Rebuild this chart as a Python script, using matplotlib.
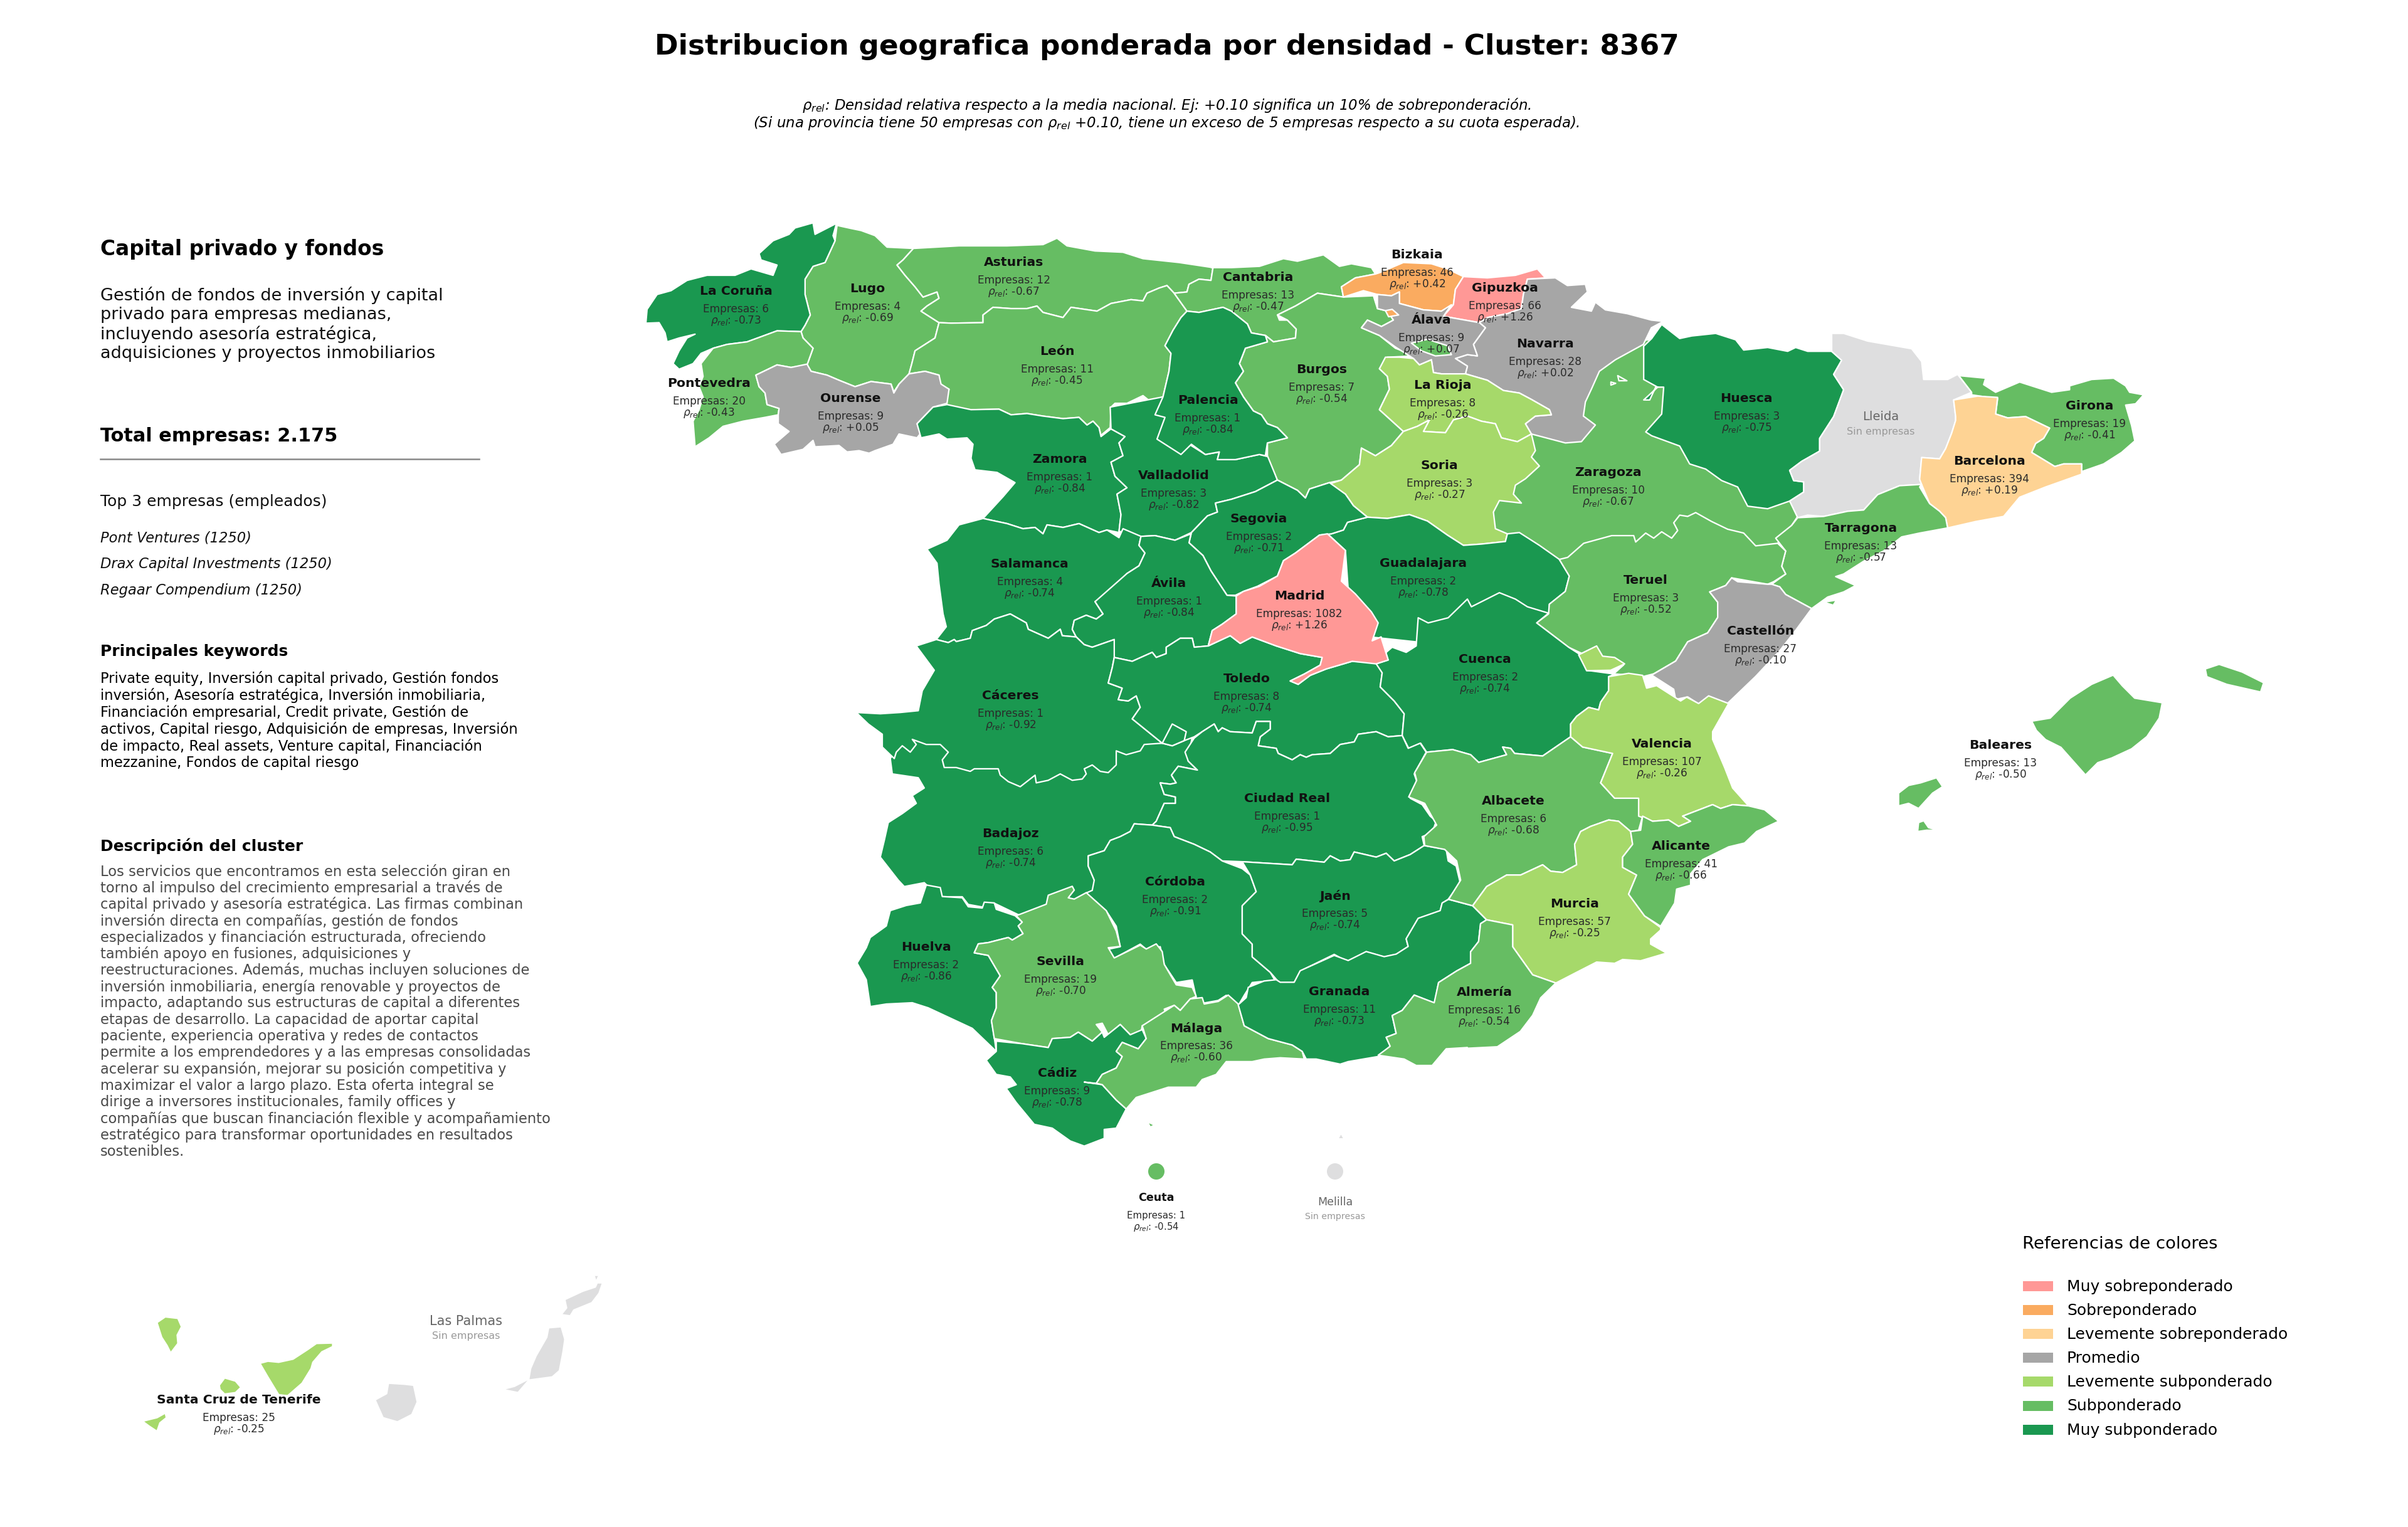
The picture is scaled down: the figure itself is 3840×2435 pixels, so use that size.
#!/usr/bin/env python3
"""Mapa de provincias ponderado por densidad, cluster 8367."""

import matplotlib
matplotlib.use('Agg')
import matplotlib.pyplot as plt
from matplotlib.patches import Polygon, Rectangle, Circle

# values
PROVINCES = ['La Coruña', 'Lugo', 'Asturias', 'Cantabria', 'Bizkaia', 'Gipuzkoa', 'Álava', 'Navarra',
             'Pontevedra', 'Ourense', 'León', 'Palencia', 'Burgos', 'La Rioja', 'Zamora', 'Valladolid',
             'Soria', 'Zaragoza', 'Huesca', 'Barcelona', 'Girona', 'Tarragona', 'Segovia', 'Salamanca',
             'Ávila', 'Guadalajara', 'Madrid', 'Teruel', 'Castellón', 'Cáceres', 'Toledo', 'Cuenca',
             'Valencia', 'Baleares', 'Badajoz', 'Ciudad Real', 'Albacete', 'Alicante', 'Córdoba', 'Jaén',
             'Murcia', 'Huelva', 'Sevilla', 'Granada', 'Almería', 'Málaga', 'Cádiz', 'Ceuta',
             'Santa Cruz de Tenerife']
EMPRESAS = [6, 4, 12, 13, 46, 66, 9, 28,
            20, 9, 11, 1, 7, 8, 1, 3,
            3, 10, 3, 394, 19, 13, 2, 4,
            1, 2, 1082, 3, 27, 1, 8, 2,
            107, 13, 6, 1, 6, 41, 2, 5,
            57, 2, 19, 11, 16, 36, 9, 1,
            25]
RHO = [-0.73, -0.69, -0.67, -0.47, 0.42, 1.26, 0.07, 0.02,
       -0.43, 0.05, -0.45, -0.84, -0.54, -0.26, -0.84, -0.82,
       -0.27, -0.67, -0.75, 0.19, -0.41, -0.57, -0.71, -0.74,
       -0.84, -0.78, 1.26, -0.52, -0.10, -0.92, -0.74, -0.74,
       -0.26, -0.50, -0.74, -0.95, -0.68, -0.66, -0.91, -0.74,
       -0.25, -0.86, -0.70, -0.73, -0.54, -0.60, -0.78, -0.54,
       -0.25]
EMPTY_PROVINCES = ['Lleida', 'Las Palmas', 'Melilla']

LEGEND_LABELS = ['Muy sobreponderado', 'Sobreponderado', 'Levemente sobreponderado', 'Promedio',
                 'Levemente subponderado', 'Subponderado', 'Muy subponderado']
LEGEND_COLORS = ['#FF9896', '#FAAB60', '#FED394', '#A6A6A6', '#A6D96A', '#66BD63', '#1A9850']
EMPTY_COLOR = '#DEDEDF'
BIN_EDGES = [-0.70, -0.30, -0.10, 0.10, 0.30, 0.70]

TOP_COMPANIES = ['Pont Ventures (1250)', 'Drax Capital Investments (1250)', 'Regaar Compendium (1250)']
SUMMARY = ['Gestión de fondos de inversión y capital', 'privado para empresas medianas,',
           'incluyendo asesoría estratégica,', 'adquisiciones y proyectos inmobiliarios']
KEYWORDS = ['Private equity, Inversión capital privado, Gestión fondos',
            'inversión, Asesoría estratégica, Inversión inmobiliaria,',
            'Financiación empresarial, Credit private, Gestión de',
            'activos, Capital riesgo, Adquisición de empresas, Inversión',
            'de impacto, Real assets, Venture capital, Financiación',
            'mezzanine, Fondos de capital riesgo']
DESCRIPTION = ['Los servicios que encontramos en esta selección giran en',
               'torno al impulso del crecimiento empresarial a través de',
               'capital privado y asesoría estratégica. Las firmas combinan',
               'inversión directa en compañías, gestión de fondos',
               'especializados y financiación estructurada, ofreciendo',
               'también apoyo en fusiones, adquisiciones y',
               'reestructuraciones. Además, muchas incluyen soluciones de',
               'inversión inmobiliaria, energía renovable y proyectos de',
               'impacto, adaptando sus estructuras de capital a diferentes',
               'etapas de desarrollo. La capacidad de aportar capital',
               'paciente, experiencia operativa y redes de contactos',
               'permite a los emprendedores y a las empresas consolidadas',
               'acelerar su expansión, mejorar su posición competitiva y',
               'maximizar el valor a largo plazo. Esta oferta integral se',
               'dirige a inversores institucionales, family offices y',
               'compañías que buscan financiación flexible y acompañamiento',
               'estratégico para transformar oportunidades en resultados',
               'sostenibles.']


# outlines were traced on crops of the picture, each crop has its own origin and scale
def z(x0, y0, sx, sy, pts):
    return [(x0 + x * sx, y0 + y * sy) for x, y in pts]

SX, SY = 1000 / 1568, 640 / 1568

def z1(pts): return z(1000, 340, SX, SY, pts)
def z2(pts): return z(1900, 340, SX, SY, pts)
def z3(pts): return z(2500, 500, SX, SY, pts)
def z4(pts): return z(1340, 980, SX, SY, pts)
def z5(pts): return z(2240, 980, SX, SY, pts)
def z6(pts): return z(1340, 1400, SX, SY, pts)
def z7(pts): return z(100, 2020, 900 / 1568, 1 / 3, pts)
def zm(pts): return z(0, 0, 3840 / 1568, 3840 / 1568, pts)

# painted in this order, later shapes lie over the loose edges of earlier ones
OUTLINES = [
    ('Zaragoza', z2([(1125, 500), (1000, 600), (950, 700), (840, 850), (800, 1000), (760, 1100), (740, 1190),
                     (770, 1260), (900, 1400)])
     + z3([(100, 1000), (500, 950), (560, 830), (590, 760), (500, 700), (300, 400), (260, 200), (230, 100)])),
    ('Lugo', z1([(525, 50), (560, 62), (585, 70), (620, 90), (650, 135), (716, 140), (690, 185), (675, 205),
                 (695, 245), (720, 290), (740, 330), (775, 310), (780, 335), (750, 365), (735, 385), (755, 405),
                 (780, 430), (775, 460), (770, 490), (745, 515), (720, 540), (712, 590), (705, 630), (680, 670),
                 (667, 700), (660, 670), (610, 660), (570, 680), (530, 655), (500, 635), (460, 620), (450, 595),
                 (465, 530), (440, 490), (435, 465), (445, 440), (458, 400), (445, 320), (445, 260), (465, 210),
                 (495, 195), (520, 110)])),
    ('La Coruña', z1([(525, 35), (515, 90), (520, 110), (495, 195), (465, 210), (445, 260), (445, 320), (458, 400),
                      (445, 440), (435, 465), (375, 462), (335, 485), (300, 505), (250, 515), (215, 530), (185, 550),
                      (165, 590), (130, 612), (115, 590), (130, 540), (150, 490), (170, 475), (130, 490), (100, 505),
                      (95, 470), (80, 430), (47, 432), (50, 378), (75, 320), (110, 305), (150, 265), (200, 245),
                      (270, 245), (310, 220), (365, 245), (375, 205), (335, 185), (330, 160), (365, 110), (405, 85),
                      (420, 60), (465, 40), (470, 85), (520, 45)])),
    ('Asturias', z1([(716, 140), (830, 130), (950, 130), (1040, 125), (1075, 100), (1100, 130), (1170, 150),
                     (1240, 155), (1290, 180), (1380, 195), (1465, 215), (1460, 265), (1430, 260), (1405, 280),
                     (1400, 310), (1368, 315), (1350, 285), (1330, 295), (1300, 315), (1290, 345), (1260, 340),
                     (1210, 355), (1175, 385), (1110, 370), (1090, 410), (1040, 390), (1025, 365), (1000, 375),
                     (960, 375), (915, 370), (890, 400), (890, 430), (810, 432), (780, 430), (755, 405), (735, 385),
                     (750, 365), (780, 335), (775, 310), (740, 330), (720, 290), (695, 245), (675, 205), (690, 185)])),
    ('León', z1([(780, 430), (810, 432), (890, 430), (890, 400), (915, 370), (960, 375), (1000, 375), (1025, 365),
                 (1040, 390), (1090, 410), (1110, 370), (1175, 385), (1210, 355), (1260, 340), (1290, 345),
                 (1300, 315), (1330, 295), (1350, 285), (1368, 315), (1400, 385), (1385, 410), (1365, 460),
                 (1345, 520), (1360, 550), (1355, 620), (1340, 720), (1310, 740), (1290, 715), (1250, 745),
                 (1220, 745), (1210, 760), (1208, 840), (1185, 870), (1180, 840), (1165, 815), (1150, 830),
                 (1130, 800), (1090, 805), (1040, 795), (1000, 785), (960, 790), (930, 768), (860, 770), (800, 760),
                 (795, 745), (805, 690), (780, 670), (780, 635), (745, 620), (705, 630), (712, 590), (720, 540),
                 (745, 515), (770, 490), (775, 460)])),
    ('Pontevedra', z1([(435, 465), (375, 462), (335, 485), (300, 505), (250, 515), (215, 530), (185, 590), (190, 640),
                       (180, 680), (190, 720), (180, 770), (165, 815), (170, 915), (205, 880), (240, 835), (290, 815),
                       (345, 800), (378, 790), (380, 765), (350, 750), (345, 705), (330, 680), (322, 635), (375, 595),
                       (410, 605), (450, 595), (465, 530), (440, 490)])),
    ('Ourense', z1([(322, 635), (375, 595), (410, 605), (450, 592), (460, 620), (500, 635), (530, 655), (570, 680),
                    (610, 660), (660, 670), (667, 705), (680, 670), (705, 630), (745, 620), (780, 635), (785, 670),
                    (805, 690), (800, 745), (765, 760), (725, 825), (735, 860), (725, 880), (680, 865), (665, 905),
                    (620, 930), (605, 940), (580, 930), (550, 935), (530, 910), (470, 915), (465, 890), (440, 925),
                    (385, 945), (368, 905), (405, 855), (378, 825), (378, 790), (380, 765), (350, 750), (345, 705),
                    (330, 680)])),
    ('Zamora', z1([(800, 750), (860, 770), (930, 768), (960, 790), (1000, 785), (1040, 795), (1090, 805), (1130, 800),
                   (1150, 830), (1165, 815), (1180, 840), (1185, 875), (1210, 845), (1245, 875), (1230, 900),
                   (1240, 950), (1210, 975), (1220, 1030), (1250, 1075), (1225, 1100), (1235, 1180), (1230, 1250),
                   (1200, 1240), (1180, 1250), (1130, 1215), (1090, 1230), (1050, 1220), (1040, 1255), (1020, 1230),
                   (990, 1235), (950, 1215), (890, 1195), (940, 1110), (970, 1055), (925, 1015), (870, 1005),
                   (860, 960), (865, 905), (850, 880), (800, 885), (780, 865), (735, 880), (725, 825), (765, 760)])),
    ('Valladolid', z1([(1208, 760), (1340, 720), (1400, 900), (1446, 945), (1481, 935), (1476, 965), (1521, 965),
                       (1581, 945), (1606, 955), (1626, 1045), (1571, 1090), (1511, 1120), (1471, 1135), (1476, 1170),
                       (1451, 1185), (1411, 1250), (1370, 1280), (1320, 1262), (1285, 1265), (1230, 1245),
                       (1235, 1180), (1225, 1100), (1250, 1075), (1220, 1030), (1210, 975), (1240, 950), (1230, 900),
                       (1245, 875), (1210, 845)])),
    ('Cantabria', z1([(1465, 215), (1460, 265), (1430, 260), (1405, 280), (1400, 310), (1368, 315), (1400, 385),
                      (1430, 390), (1490, 370), (1511, 385), (1551, 435), (1561, 470)])
     + z2([(185, 480), (205, 505), (260, 490), (262, 455), (240, 420), (220, 420), (215, 400), (260, 365), (315, 315),
           (380, 330), (375, 290), (410, 255), (460, 240), (450, 215), (400, 200), (370, 210), (330, 165), (265, 190),
           (230, 180), (170, 210), (100, 215), (50, 215)])),
    ('Burgos', z2([(215, 400), (260, 365), (315, 315), (380, 330), (455, 325), (465, 375), (490, 385), (505, 420),
                   (475, 445), (440, 420), (425, 450), (470, 480), (510, 530), (560, 560), (490, 565), (470, 610),
                   (490, 640), (495, 690), (470, 770), (530, 855), (500, 910), (460, 950), (425, 920), (420, 985),
                   (375, 1045), (345, 1055), (295, 1080), (285, 1115), (265, 1085), (215, 1045), (190, 950), (190, 900),
                   (240, 880), (215, 840), (190, 825), (175, 790), (155, 775), (130, 720), (110, 665), (130, 620),
                   (120, 590), (135, 530), (190, 505), (185, 480), (205, 505), (260, 490), (262, 455), (240, 420)])),
    ('Palencia', z1([(1511, 385), (1551, 435), (1561, 470), (1596, 480), (1601, 505), (1546, 530), (1531, 590),
                     (1541, 620), (1521, 665), (1541, 720), (1566, 775), (1586, 790), (1601, 825), (1626, 840),
                     (1651, 880), (1601, 900), (1596, 950), (1581, 945), (1521, 965), (1476, 965), (1481, 935),
                     (1446, 945), (1411, 905), (1385, 945), (1325, 885), (1345, 800), (1320, 790), (1340, 720),
                     (1355, 620), (1360, 550), (1345, 520), (1365, 460), (1385, 410), (1400, 385), (1430, 390),
                     (1490, 370)])),
    ('Bizkaia', z2([(375, 290), (410, 255), (460, 240), (470, 235), (530, 195), (600, 200), (640, 220), (680, 250),
                    (660, 300), (655, 360), (625, 385), (580, 380), (520, 355), (520, 310), (500, 325), (465, 320),
                    (430, 305), (380, 330)])),
    ('Gipuzkoa', z2([(680, 250), (740, 255), (810, 245), (865, 220), (885, 255), (840, 260), (830, 320), (825, 375),
                     (790, 395), (740, 410), (720, 430), (630, 405), (655, 360), (660, 300)])),
    ('Navarra', z2([(830, 320), (840, 260), (910, 255), (940, 285), (985, 280), (990, 310), (950, 370), (1000, 385),
                    (1010, 350), (1035, 380), (1090, 395), (1150, 420), (1180, 425), (1150, 450), (1130, 515),
                    (1060, 575), (1020, 620), (1000, 690), (985, 740), (980, 795), (1010, 830), (975, 895), (935, 900),
                    (850, 865), (835, 825), (860, 795), (900, 790), (895, 770), (850, 730), (820, 705), (780, 695),
                    (740, 655), (685, 630), (690, 600), (660, 570), (690, 555), (715, 560), (705, 515), (735, 450),
                    (720, 430), (740, 410), (790, 395), (825, 375)])),
    ('Álava', z2([(465, 320), (500, 325), (520, 310), (520, 355), (580, 380), (625, 385), (650, 360), (630, 405),
                  (720, 430), (735, 450), (705, 515), (715, 560), (690, 555), (660, 570), (690, 600), (685, 630),
                  (625, 630), (605, 625), (600, 575), (570, 595), (555, 570), (510, 525), (470, 480), (425, 450),
                  (440, 420), (475, 445), (505, 420), (490, 385), (465, 375)])),
    ('Burgos', z2([(550, 510), (590, 495), (640, 520), (650, 555), (610, 560), (575, 540)])),
    ('Bizkaia', z2([(485, 383), (502, 378), (518, 400), (493, 407)])),
    ('La Rioja', z2([(485, 565), (520, 565), (555, 570), (570, 595), (600, 575), (605, 625), (625, 630), (685, 630),
                     (740, 655), (780, 695), (820, 705), (850, 730), (895, 770), (900, 790), (860, 795), (835, 825),
                     (850, 865), (815, 895), (775, 880), (760, 825), (725, 815), (690, 795), (655, 810), (635, 860),
                     (580, 855), (595, 810), (565, 835), (530, 855), (470, 770), (495, 690), (490, 640), (470, 610)])),
    ('Soria', z2([(530, 855), (565, 835), (595, 810), (580, 855), (635, 860), (655, 810), (690, 795), (725, 815),
                  (760, 825), (775, 880), (815, 895), (850, 865), (860, 930), (850, 955), (870, 990), (835, 1040),
                  (810, 1065), (805, 1100), (825, 1135), (770, 1125), (755, 1170), (760, 1235), (790, 1255),
                  (785, 1285), (725, 1295), (680, 1300), (640, 1260), (590, 1205), (545, 1180), (490, 1195),
                  (440, 1190), (405, 1145), (385, 1100), (345, 1060), (375, 1045), (420, 985), (425, 920), (460, 950),
                  (500, 910)])),
    ('Huesca', z3([(235, 45), (280, 100), (310, 90), (370, 80), (420, 105), (440, 145), (500, 135), (550, 150),
                   (570, 135), (600, 150), (660, 150), (685, 185), (665, 240), (690, 300), (665, 405), (630, 490),
                   (630, 540), (585, 580), (555, 615), (565, 655), (590, 660), (590, 700), (555, 735), (500, 765),
                   (450, 755), (425, 680), (385, 655), (345, 610), (305, 590), (280, 520), (210, 480), (195, 465),
                   (235, 395), (240, 290), (220, 290), (205, 340), (190, 340), (225, 290), (190, 260), (190, 130),
                   (210, 100)])),
    ('Zaragoza', z3([(125, 245), (148, 265), (128, 265)])),
    ('Zaragoza', z3([(108, 270), (120, 275), (108, 282)])),
    ('Lleida', z3([(660, 80), (690, 80), (750, 110), (860, 140), (885, 190), (890, 260), (950, 260), (975, 240),
                   (1010, 310), (965, 340), (970, 405), (970, 420), (960, 470), (945, 530), (930, 570), (885, 565),
                   (880, 650), (885, 670), (830, 675), (775, 710), (740, 770), (700, 775), (640, 795), (600, 790),
                   (575, 800), (555, 735), (590, 700), (590, 660), (565, 655), (555, 615), (585, 580), (630, 540),
                   (630, 490), (665, 405), (690, 300), (665, 240), (685, 185), (660, 150), (660, 115)])),
    ('Girona', z3([(978, 245), (1045, 255), (1040, 280), (1070, 310), (1130, 270), (1180, 295), (1210, 310),
                   (1255, 300), (1255, 285), (1310, 260), (1365, 255), (1395, 285), (1405, 310), (1440, 320),
                   (1420, 355), (1395, 360), (1410, 440), (1418, 500), (1385, 545), (1340, 590), (1285, 620),
                   (1285, 590), (1240, 590), (1218, 600), (1160, 545), (1170, 510), (1190, 490), (1205, 450),
                   (1145, 405), (1100, 410), (1070, 395), (1075, 335), (1010, 320), (1010, 310)])),
    ('Barcelona', z3([(965, 340), (1025, 325), (1075, 330), (1070, 395), (1100, 410), (1145, 405), (1205, 450),
                      (1190, 490), (1170, 510), (1160, 545), (1218, 600), (1240, 590), (1285, 590), (1285, 630),
                      (1195, 680), (1130, 720), (1090, 795), (1020, 815), (950, 840), (945, 800), (930, 775),
                      (905, 745), (885, 670), (880, 650), (885, 565), (930, 570), (945, 530), (960, 470), (970, 420),
                      (970, 405)])),
    ('Tarragona', z3([(575, 800), (640, 795), (700, 775), (740, 770), (775, 710), (830, 675), (885, 670), (880, 680),
                      (905, 745), (930, 775), (945, 800), (950, 840), (880, 860), (835, 875), (790, 930), (740, 970),
                      (690, 1020), (670, 1030), (720, 1065), (690, 1090), (650, 1110), (610, 1155), (545, 1100),
                      (530, 1070), (510, 1060), (545, 1020), (535, 990), (545, 930), (520, 880), (560, 830)])),
    ('Tarragona', z3([(640, 1130), (672, 1122), (664, 1142)])),
    ('Guadalajara', z2([(340, 1255), (350, 1255), (380, 1240), (390, 1210), (440, 1190), (490, 1195), (545, 1180),
                        (590, 1205), (640, 1260), (680, 1300), (725, 1295), (785, 1285), (790, 1255), (820, 1250),
                        (870, 1300), (920, 1355), (945, 1420), (935, 1480), (895, 1530), (895, 1565), (700, 1700),
                        (400, 1650), (385, 1320)])),
    ('Segovia', z2([(215, 1045), (265, 1085), (285, 1115), (295, 1080), (345, 1055), (385, 1100), (405, 1145),
                    (440, 1190), (390, 1210), (380, 1240), (350, 1255), (320, 1260), (260, 1330), (230, 1360),
                    (215, 1420), (165, 1460), (130, 1480), (110, 1495), (89, 1495), (49, 1400), (29, 1340), (-6, 1290),
                    (0, 1250), (40, 1185), (65, 1170), (60, 1135), (100, 1120), (160, 1090)])),
    ('Salamanca', z1([(890, 1195), (950, 1215), (990, 1235), (1020, 1230), (1040, 1255), (1050, 1220), (1090, 1230),
                      (1130, 1215), (1180, 1250), (1200, 1240), (1230, 1270), (1240, 1235), (1285, 1265), (1280, 1300),
                      (1295, 1330), (1280, 1380), (1250, 1410), (1210, 1480), (1170, 1520)])
     + z4([(657, 0), (640, 20), (615, 5), (585, 25), (580, 60), (590, 90), (555, 85), (550, 60), (520, 95), (470, 60),
           (465, 35), (425, 0), (385, 20), (365, 45), (330, 65), (325, 95), (290, 108), (285, 100), (270, 112),
           (240, 100), (265, 50), (257, 0)])
     + z1([(780, 1450), (775, 1370), (750, 1315), (800, 1280), (830, 1220)])),
    ('Ávila', z1([(1285, 1265), (1320, 1262), (1370, 1280), (1410, 1255), (1405, 1290), (1440, 1340), (1460, 1400),
                  (1500, 1495)])
     + z4([(990, -70), (990, 0), (955, 40), (930, 65), (920, 125), (885, 130), (880, 95), (850, 95), (815, 130),
           (815, 155), (790, 170), (780, 150), (730, 185), (685, 170), (685, 100), (630, 130), (610, 120), (590, 90),
           (580, 60), (585, 25), (615, 5), (640, 20), (657, 0), (637, -48)])
     + z1([(1250, 1410), (1280, 1380), (1295, 1330), (1280, 1300)])),
    ('Teruel', z3([(0, 955), (40, 900), (110, 870), (165, 870), (170, 895), (195, 860), (215, 880), (235, 855),
                   (260, 880), (275, 850), (265, 820), (280, 790), (300, 795), (320, 780), (360, 815), (400, 845),
                   (440, 860), (470, 910), (525, 900), (545, 930), (535, 990), (545, 1020), (515, 1050), (500, 1060),
                   (410, 1035), (395, 1065), (355, 1090), (375, 1130), (375, 1190), (350, 1250), (300, 1285),
                   (270, 1360), (215, 1410), (190, 1420), (115, 1410), (140, 1375), (75, 1345), (70, 1305), (35, 1330),
                   (2, 1306), (-78, 1211), (-48, 1176), (-46, 1138), (-6, 1088), (4, 1028), (-21, 963)])),
    ('Castellón', z3([(510, 1060), (530, 1070), (545, 1100), (610, 1155), (570, 1240), (530, 1320), (500, 1370),
                      (470, 1420), (400, 1525), (330, 1530), (300, 1500), (270, 1510), (265, 1470), (235, 1440),
                      (210, 1415), (270, 1360), (300, 1285), (350, 1250), (375, 1190), (375, 1130), (355, 1090),
                      (395, 1065), (410, 1035), (425, 1050), (500, 1060)])),
    ('Badajoz', z4([(125, 565), (150, 500), (300, 480), (805, 505), (880, 480), (875, 520), (870, 575), (893, 610),
                    (845, 595), (828, 630), (840, 660), (825, 665), (800, 660), (810, 705), (838, 715), (838, 740),
                    (810, 740), (790, 810), (780, 825), (735, 820), (725, 850), (700, 870), (675, 885), (660, 925),
                    (620, 945), (620, 985), (635, 1040), (640, 1130), (600, 1170), (500, 1230), (445, 1175),
                    (385, 1130), (355, 1145), (320, 1135), (305, 1105), (255, 1105), (220, 1065), (210, 1050),
                    (160, 1065), (145, 1040), (100, 950), (110, 885), (120, 815), (155, 780), (190, 740), (180, 710),
                    (210, 680), (195, 640), (130, 625)])),
    ('Cáceres', z4([(240, 100), (270, 112), (285, 100), (290, 108), (325, 95), (330, 65), (365, 45), (385, 20),
                    (425, 0), (465, 35), (470, 60), (520, 95), (550, 60), (555, 85), (590, 90), (610, 120), (630, 130),
                    (685, 100), (685, 170), (680, 210), (670, 270), (705, 290), (695, 335), (720, 340), (740, 320),
                    (750, 365), (730, 410), (805, 505), (760, 510), (750, 535), (715, 550), (690, 535), (690, 590),
                    (670, 620), (650, 615), (630, 590), (610, 605), (615, 625), (605, 645), (580, 650), (550, 625),
                    (520, 650), (490, 660), (487, 630), (450, 675), (420, 655), (400, 630), (395, 605), (335, 605),
                    (325, 615), (290, 600), (260, 600), (255, 570), (270, 540), (250, 510), (215, 510), (180, 490),
                    (190, 510), (175, 540), (155, 515), (140, 540), (135, 565), (105, 520), (105, 470), (70, 430),
                    (40, 385), (100, 390), (150, 385), (195, 378), (205, 300), (235, 220), (190, 125)])),
    ('Toledo', z4([(685, 170), (730, 185), (780, 150), (790, 170), (815, 155), (815, 130), (850, 95), (880, 95),
                   (885, 130), (920, 125), (975, 85), (1000, 115), (1030, 90), (1090, 125), (1150, 155), (1205, 170),
                   (1200, 200), (1160, 235), (1125, 262), (1145, 275), (1175, 240), (1215, 215), (1280, 185),
                   (1340, 190), (1355, 230), (1350, 285), (1385, 340), (1410, 390), (1405, 475), (1370, 480),
                   (1340, 460), (1295, 470), (1285, 500), (1250, 510), (1225, 545), (1180, 550), (1165, 560),
                   (1150, 550), (1130, 570), (1095, 545), (1090, 525), (1045, 515), (1050, 480), (1075, 450),
                   (1075, 420), (1040, 420), (1030, 465), (975, 460), (955, 445), (945, 460), (935, 430), (905, 460),
                   (885, 480), (860, 495), (830, 515), (805, 505), (730, 410), (750, 365), (740, 320), (720, 340),
                   (695, 335), (705, 290), (670, 270), (680, 210)])),
    ('Toledo', z4([(805, 505), (830, 430), (865, 460), (860, 495), (830, 515)])),
    ('Cuenca', z4([(1405, 475), (1410, 390), (1385, 340), (1350, 285), (1355, 230), (1340, 195), (1370, 180),
                   (1352, 90), (1365, 150), (1380, 130), (1415, 150), (1440, 125), (1445, 15), (1470, 35), (1520, 15)])
     + z2([(690, 1510), (700, 1540), (770, 1485), (810, 1510), (840, 1540), (893, 1565)])
     + z5([(330, 35), (410, 130), (440, 160), (455, 220), (525, 235), (510, 245), (510, 300), (490, 345), (485, 375),
           (460, 365), (430, 400), (415, 430), (415, 480), (345, 555), (275, 545), (265, 525), (245, 520), (255, 550),
           (185, 580), (165, 550), (120, 530), (55, 540), (40, 505), (10, 525)])),
    ('Madrid', z2([(340, 1255), (385, 1320), (375, 1440), (410, 1490), (450, 1560)])
     + z4([(1345, 35), (1330, 105), (1352, 90), (1370, 180), (1340, 195), (1280, 185), (1215, 215), (1175, 240),
           (1145, 275), (1125, 262), (1160, 235), (1200, 200), (1205, 170), (1150, 155), (1090, 125), (1030, 90),
           (1000, 115), (975, 85), (920, 125), (930, 65), (955, 40), (990, 0), (990, -70)])
     + z2([(130, 1480), (170, 1460), (215, 1420), (230, 1360), (260, 1330), (320, 1260)])),
    ('Ciudad Real', z4([(885, 485), (905, 460), (935, 430), (945, 460), (955, 445), (975, 460), (1030, 465),
                        (1040, 420), (1075, 420), (1075, 450), (1050, 480), (1045, 515), (1090, 525), (1095, 545),
                        (1130, 570), (1150, 550), (1165, 560), (1180, 550), (1225, 545), (1250, 510), (1285, 500),
                        (1295, 470), (1340, 460), (1370, 480), (1405, 475), (1420, 525), (1450, 505), (1465, 540),
                        (1435, 625), (1445, 670), (1425, 720), (1455, 745), (1475, 790), (1490, 810), (1480, 855),
                        (1455, 870), (1460, 905), (1425, 940), (1385, 965), (1365, 935), (1340, 950), (1285, 930),
                        (1275, 960), (1250, 965), (1225, 945), (1210, 970), (1140, 958), (1130, 980), (1005, 968),
                        (955, 965), (925, 930), (885, 900), (835, 870), (825, 835), (780, 825), (790, 810), (810, 740),
                        (838, 740), (838, 715), (810, 705), (800, 660), (825, 665), (840, 660), (828, 630), (845, 595),
                        (893, 610), (870, 575), (862, 540)])),
    ('Córdoba', z4([(780, 825), (825, 835), (835, 870), (885, 900), (925, 930), (955, 965), (1005, 995), (1025, 1020),
                    (1040, 1085), (1005, 1140), (1005, 1250), (1030, 1290), (1030, 1340), (1075, 1400), (1090, 1440),
                    (1060, 1435), (1030, 1440), (1010, 1490), (995, 1530), (965, 1490), (945, 1510), (910, 1520),
                    (890, 1500), (880, 1430), (840, 1440), (810, 1370), (800, 1300), (765, 1310), (750, 1290),
                    (685, 1345), (670, 1310), (700, 1300), (690, 1220), (665, 1160), (615, 1090), (630, 1080),
                    (635, 1040), (620, 985), (620, 945), (660, 925), (675, 885), (700, 870), (725, 850), (735, 820)])),
    ('Jaén', z4([(1005, 968), (1130, 980), (1140, 958), (1210, 970), (1225, 945), (1250, 965), (1275, 960), (1285, 930),
                 (1340, 950), (1365, 935), (1385, 965), (1425, 940), (1460, 905), (1515, 920), (1520, 965),
                 (1540, 985), (1550, 1050), (1520, 1115), (1505, 1130), (1500, 1160), (1445, 1190), (1415, 1270),
                 (1420, 1300), (1390, 1330), (1360, 1340), (1315, 1320), (1270, 1360), (1235, 1330), (1150, 1395),
                 (1135, 1440), (1100, 1445), (1075, 1400), (1030, 1340), (1030, 1290), (1005, 1250), (1005, 1140),
                 (1040, 1085), (1025, 1020)])),
    ('Huelva', z6([(215, 30), (250, 40), (255, 75), (305, 80), (320, 115), (355, 120), (360, 97), (385, 100),
                   (390, 125), (437, 150), (455, 175), (445, 190), (457, 220), (430, 245), (420, 235), (370, 255),
                   (345, 260), (335, 295), (370, 305), (400, 385), (380, 430), (390, 450), (390, 510), (378, 560),
                   (385, 625), (390, 680), (330, 590), (220, 510), (180, 490), (115, 495), (75, 505), (65, 400),
                   (42, 335), (65, 275), (75, 235), (115, 190), (125, 130), (165, 110), (200, 100)])),
    ('Sevilla', z6([(440, 150), (515, 105), (520, 70), (580, 35), (585, 50), (570, 80), (585, 85), (615, 60),
                    (665, 130), (690, 210), (700, 270), (670, 275), (685, 315), (750, 265), (765, 280), (790, 260),
                    (805, 290), (810, 340), (840, 420), (880, 430), (890, 465), (875, 475), (850, 520), (835, 500),
                    (810, 515), (815, 535), (755, 580), (750, 620), (725, 615), (700, 575), (670, 615), (655, 570),
                    (640, 575), (655, 605), (630, 640), (595, 605), (575, 625), (530, 630), (520, 665), (455, 650),
                    (385, 630), (378, 560), (390, 510), (390, 450), (380, 430), (400, 385), (370, 305), (335, 295),
                    (345, 260), (370, 255), (420, 235), (430, 245), (457, 220), (445, 190), (455, 175)])),
    ('Cádiz', z6([(390, 640), (455, 650), (520, 665), (530, 630), (575, 625), (595, 605), (630, 640), (655, 605),
                  (660, 625), (700, 575), (725, 615), (755, 595), (765, 630), (745, 670), (705, 645), (690, 680),
                  (705, 700), (690, 745), (655, 770), (640, 805), (610, 800), (655, 810), (690, 870), (715, 905),
                  (690, 980), (660, 985), (660, 1020), (610, 1050), (575, 1030), (530, 980), (485, 965), (440, 880),
                  (415, 825), (440, 810), (425, 780), (390, 770), (365, 715), (390, 680)])),
    ('Málaga', z6([(815, 520), (835, 500), (850, 520), (875, 475), (905, 470), (910, 495), (945, 485), (970, 460),
                   (995, 495), (1010, 580), (1070, 630), (1130, 655), (1155, 680), (1160, 710), (1100, 705),
                   (1060, 710), (1030, 720), (965, 720), (940, 770), (905, 790), (890, 820), (820, 820), (740, 860),
                   (715, 905), (690, 870), (655, 810), (640, 805), (655, 770), (690, 745), (705, 700), (690, 680),
                   (705, 645), (745, 670), (765, 630), (755, 580)])),
    ('Granada', z6([(995, 498), (1015, 470), (1020, 430), (1060, 405), (1090, 400), (1100, 410), (1135, 410),
                    (1150, 365), (1235, 305), (1270, 325), (1315, 290), (1360, 310), (1390, 300), (1420, 270),
                    (1415, 240), (1445, 160), (1500, 130), (1505, 100), (1521, 86), (1581, 111), (1616, 166),
                    (1601, 181), (1596, 251), (1576, 291), (1576, 336), (1541, 366), (1496, 411), (1486, 491),
                    (1435, 460), (1405, 520), (1380, 540), (1390, 610), (1365, 625), (1375, 660), (1345, 700),
                    (1270, 720), (1250, 730), (1190, 710), (1165, 710), (1155, 680), (1130, 655), (1070, 630),
                    (1010, 580)])),
    ('Albacete', z5([(55, 540), (120, 530), (165, 550), (185, 580), (255, 550), (245, 520), (265, 525), (275, 545),
                     (345, 555), (415, 480), (445, 520), (520, 545), (490, 660), (525, 720), (585, 720), (595, 790),
                     (585, 845), (565, 850), (535, 810), (510, 805), (465, 830), (440, 850), (425, 900), (430, 980),
                     (395, 1010), (365, 1005), (345, 980), (290, 1020), (255, 1020), (205, 1065), (170, 1140),
                     (110, 1115), (140, 1040), (130, 965), (100, 920), (50, 905), (48, 870), (80, 825), (50, 740),
                     (10, 715), (30, 650), (25, 620)])),
    ('Murcia', z5([(170, 1140), (205, 1195), (270, 1215), (270, 1300), (320, 1410), (378, 1442), (430, 1400),
                   (480, 1360), (525, 1365), (545, 1350), (590, 1355), (655, 1325), (615, 1290), (615, 1270),
                   (640, 1235), (640, 1225), (600, 1180), (560, 1095), (580, 1020), (545, 990), (545, 950), (570, 900),
                   (565, 850), (535, 810), (510, 805), (465, 830), (440, 850), (425, 900), (430, 980), (395, 1010),
                   (365, 1005), (345, 980), (290, 1020), (255, 1020), (205, 1065)])),
    ('Almería', z5([(205, 1195), (270, 1215), (270, 1300), (320, 1410), (378, 1442), (340, 1500), (320, 1568)])
     + zm([(990, 672), (975, 682), (955, 683)])
     + z6([(1568, 665), (1515, 670), (1480, 735), (1440, 735), (1410, 710), (1345, 695), (1375, 660), (1365, 625),
           (1390, 610), (1380, 540), (1405, 520), (1435, 460), (1485, 490), (1496, 411), (1541, 366), (1576, 336),
           (1576, 291), (1596, 251), (1601, 181)])),
    ('Valencia', z5([(510, 245), (560, 232), (595, 240), (605, 290), (630, 280), (670, 320), (690, 340), (705, 325),
                     (735, 350), (760, 320), (810, 350), (770, 460), (770, 490), (800, 600), (820, 680), (860, 750),
                     (820, 745), (790, 760), (770, 745), (695, 790), (715, 810), (685, 830), (660, 805), (620, 810),
                     (585, 790), (585, 720), (525, 720), (490, 660), (520, 545), (445, 520), (415, 480), (415, 430),
                     (430, 400), (460, 365), (485, 375), (490, 345), (510, 300)])),
    ('Valencia', z5([(435, 160), (480, 125), (495, 165), (525, 170), (550, 195), (515, 220), (455, 222)])),
    ('Alicante', z5([(860, 750), (900, 765), (935, 810), (880, 850), (850, 895), (810, 910), (745, 960), (715, 1015),
                     (715, 1060), (680, 1075), (675, 1130), (640, 1220), (600, 1180), (560, 1095), (580, 1020),
                     (545, 990), (545, 950), (570, 900), (565, 850), (590, 845), (595, 790), (620, 810), (660, 805),
                     (685, 830), (715, 810), (695, 790), (770, 745), (790, 760), (820, 745)])),
    ('Baleares', zm([(1323, 470), (1335, 468), (1348, 455), (1362, 446), (1376, 440), (1382, 447), (1390, 455),
                     (1408, 458), (1406, 468), (1398, 480), (1388, 488), (1375, 494), (1366, 497), (1358, 505),
                     (1350, 496), (1342, 487), (1332, 482), (1326, 476)])),
    ('Baleares', zm([(1436, 436), (1445, 433), (1460, 438), (1474, 445), (1472, 451), (1450, 446), (1437, 441)])),
    ('Baleares', z5([(1235, 700), (1260, 670), (1290, 660), (1330, 640), (1345, 675), (1320, 700), (1285, 760),
                     (1260, 740), (1235, 750)])),
    ('Baleares', z5([(1283, 845), (1285, 815), (1298, 808), (1310, 835), (1335, 845), (1305, 845), (1283, 850)])),
    ('Málaga', z6([(768, 955), (786, 968), (775, 976)])),
    ('Melilla', z6([(1252, 1000), (1260, 1022), (1244, 1022)])),
    ('Santa Cruz de Tenerife', z7([(262, 270), (285, 243), (320, 250), (330, 290), (318, 330), (320, 370), (300, 415),
                                   (290, 380), (275, 340)])),
    ('Santa Cruz de Tenerife', z7([(548, 465), (570, 455), (600, 460), (640, 445), (680, 400), (705, 370), (750, 368),
                                   (750, 385), (720, 410), (695, 460), (690, 490), (665, 560), (625, 620), (600, 615),
                                   (570, 530)])),
    ('Santa Cruz de Tenerife', z7([(435, 570), (450, 535), (480, 550), (495, 580), (480, 605), (450, 612), (437, 590)])),
    ('Santa Cruz de Tenerife', z7([(222, 742), (262, 725), (285, 703), (288, 725), (270, 750), (262, 790), (240, 765)])),
    ('Las Palmas', z7([(868, 640), (900, 610), (905, 560), (950, 565), (975, 570), (985, 650), (970, 710), (930, 745),
                       (890, 725)])),
    ('Las Palmas', z7([(1222, 590), (1255, 575), (1295, 540), (1300, 490), (1315, 430), (1345, 340), (1350, 295),
                       (1385, 290), (1395, 350), (1390, 410), (1380, 500), (1360, 530), (1295, 545), (1265, 605)])),
    ('Las Palmas', z7([(1385, 232), (1400, 200), (1395, 160), (1445, 120), (1480, 100), (1485, 80), (1500, 80),
                       (1490, 130), (1470, 175), (1420, 210), (1410, 238)])),
    ('Las Palmas', z7([(1476, 44), (1490, 44), (1482, 74)])),
]

# where each label block sits, read on the same crops
LABELS = {}
for crop, names in [
    (z1, {'La Coruña': (272, 305), 'Lugo': (601, 295), 'Asturias': (967, 193), 'León': (1075, 540),
          'Pontevedra': (205, 665), 'Ourense': (559, 723), 'Zamora': (1082, 962), 'Palencia': (1452, 732),
          'Valladolid': (1367, 1025), 'Salamanca': (1007, 1370), 'Ávila': (1355, 1447)}),
    (z2, {'Cantabria': (167, 250), 'Bizkaia': (564, 162), 'Gipuzkoa': (784, 292), 'Álava': (600, 417),
          'Burgos': (325, 612), 'Navarra': (885, 510), 'La Rioja': (628, 672), 'Soria': (620, 985),
          'Zaragoza': (1042, 1013), 'Huesca': (1388, 725), 'Segovia': (168, 1194), 'Guadalajara': (580, 1368),
          'Madrid': (270, 1495), 'Teruel': (1136, 1435)}),
    (z3, {'Barcelona': (1055, 578), 'Girona': (1305, 362), 'Tarragona': (733, 840), 'Castellón': (482, 1242)}),
    (z4, {'Cáceres': (426, 317), 'Toledo': (1016, 251), 'Badajoz': (426, 857), 'Ciudad Real': (1117, 718),
          'Córdoba': (837, 1045), 'Jaén': (1237, 1100), 'Huelva': (215, 1300), 'Sevilla': (551, 1355)}),
    (z5, {'Cuenca': (201, 176), 'Valencia': (643, 506), 'Albacete': (272, 730), 'Alicante': (691, 906),
          'Murcia': (425, 1130), 'Baleares': (1490, 510), 'Almería': (199, 1477)}),
    (z6, {'Málaga': (890, 587), 'Granada': (1248, 445), 'Cádiz': (542, 762)}),
]:
    for name, pt in names.items():
        LABELS[name] = crop([pt])[0]
LABELS['Santa Cruz de Tenerife'] = (381, 2233)
LABELS['Ceuta'] = (1844, 1910)

EMPTY_LABELS = {'Lleida': (2999, 665, 688, 4.7, 3.85),
                'Las Palmas': (743, 2107, 2131, 5.0, 3.85),
                'Melilla': (2129, 1917, 1940, 4.2, 3.4)}
DOTS = {'Ceuta': (1844, 1869), 'Melilla': (2129, 1869)}


def province_color(rho):
    for edge, color in zip(BIN_EDGES, LEGEND_COLORS[::-1]):
        if rho < edge:
            return color
    return LEGEND_COLORS[0]


def main():
    fig = plt.figure(figsize=(12.8, 8.12), dpi=300, facecolor='white')
    ax = fig.add_axes([0, 0, 1, 1])
    ax.set_xlim(0, 3840)
    ax.set_ylim(2436, 0)
    ax.axis('off')

    colors = {n: province_color(r) for n, r in zip(PROVINCES, RHO)}
    colors.update({n: EMPTY_COLOR for n in EMPTY_PROVINCES})

    for name, pts in OUTLINES:
        ax.add_patch(Polygon(pts, closed=True, facecolor=colors[name], edgecolor='white',
                             linewidth=0.55, joinstyle='round', zorder=2))
    for name, (x, y) in DOTS.items():
        ax.add_patch(Circle((x, y), 13, facecolor=colors[name], edgecolor='none', zorder=2))

    # province labels
    for name, emp, rho in zip(PROVINCES, EMPRESAS, RHO):
        x, y = LABELS[name]
        small = name == 'Ceuta'
        ax.text(x, y, name, ha='center', va='center', fontsize=4.2 if small else 4.9,
                fontweight='bold', color='#111111', zorder=5)
        ax.text(x, y + 28.5, f'Empresas: {emp}', ha='center', va='center',
                fontsize=3.6 if small else 4.1, color='#2a2a2a', zorder=5)
        ax.text(x, y + 47, rf'$\rho_{{rel}}$: {rho:+.2f}', ha='center', va='center',
                fontsize=3.6 if small else 4.1, color='#2a2a2a', zorder=5)
    for name, (x, y1, y2, s1, s2) in EMPTY_LABELS.items():
        ax.text(x, y1, name, ha='center', va='center', fontsize=s1, color='#666666', zorder=5)
        ax.text(x, y2, 'Sin empresas', ha='center', va='center', fontsize=s2, color='#999999', zorder=5)

    # title block
    ax.text(1861, 74, 'Distribucion geografica ponderada por densidad - Cluster: 8367',
            ha='center', va='center', fontsize=10.9, fontweight='bold', color='black')
    ax.text(1860, 168, r'$\rho_{rel}$: Densidad relativa respecto a la media nacional. '
            'Ej: +0.10 significa un 10% de sobreponderación.',
            ha='center', va='center', fontsize=5.5, style='italic')
    ax.text(1860, 197, r'(Si una provincia tiene 50 empresas con $\rho_{rel}$ +0.10, '
            'tiene un exceso de 5 empresas respecto a su cuota esperada).',
            ha='center', va='center', fontsize=5.5, style='italic')

    # left panel
    left = 160
    ax.text(left, 397, 'Capital privado y fondos', va='center', fontsize=7.9, fontweight='bold')
    for i, line in enumerate(SUMMARY):
        ax.text(left, 471 + i * 31, line, va='center', fontsize=6.5, color='#111111')
    ax.text(left, 695, 'Total empresas: 2.175', va='center', fontsize=7.3, fontweight='bold')
    ax.plot([left, 764], [733, 733], color='#888888', linewidth=0.6)
    ax.text(left, 800, 'Top 3 empresas (empleados)', va='center', fontsize=6, color='#111111')
    for i, line in enumerate(TOP_COMPANIES):
        ax.text(left, 858 + i * 42, line, va='center', fontsize=5.45, style='italic', color='#111111')
    ax.text(left, 1039, 'Principales keywords', va='center', fontsize=6, fontweight='bold')
    for i, line in enumerate(KEYWORDS):
        ax.text(left, 1082 + i * 26.9, line, va='center', fontsize=5.45, color='black')
    ax.text(left, 1349, 'Descripción del cluster', va='center', fontsize=6, fontweight='bold')
    for i, line in enumerate(DESCRIPTION):
        ax.text(left, 1390 + i * 26.25, line, va='center', fontsize=5.45, color='#4a4a4a')

    # colour legend
    ax.text(3225, 1984, 'Referencias de colores', va='center', fontsize=6.6, color='black')
    for i, (label, color) in enumerate(zip(LEGEND_LABELS, LEGEND_COLORS)):
        y = 2052 + i * 38.1
        ax.add_patch(Rectangle((3226, y - 8), 48, 16, facecolor=color, edgecolor='none'))
        ax.text(3296, y, label, va='center', fontsize=6, color='black')

    fig.savefig('out.png', dpi=300, facecolor='white')


if __name__ == '__main__':
    main()
